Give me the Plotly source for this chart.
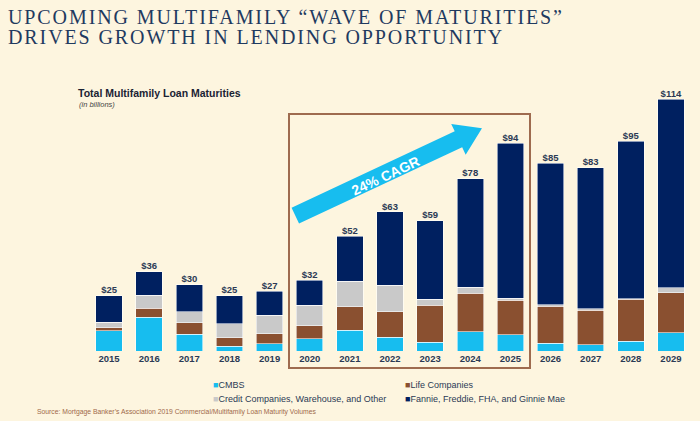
import math
import plotly.graph_objects as go

years = ["2015", "2016", "2017", "2018", "2019", "2020", "2021", "2022",
         "2023", "2024", "2025", "2026", "2027", "2028", "2029"]
totals = [25, 36, 30, 25, 27, 32, 52, 63, 59, 78, 94, 85, 83, 95, 114]

cmbs = [9.1, 15.3, 7.7, 2.1, 3.2, 5.6, 9.4, 6.2, 3.9, 8.8, 7.3, 3.4, 2.9, 4.4, 8.2]
life = [1.5, 4.1, 5.2, 3.9, 4.7, 5.9, 10.7, 11.5, 16.9, 17.4, 15.7, 16.9, 15.6, 19.0, 18.1]
credit = [2.4, 5.9, 4.8, 6.3, 8.3, 9.3, 11.6, 12.0, 2.7, 2.7, 0.9, 0.6, 0.6, 0.3, 2.4]
agency = [12.0, 10.7, 12.3, 12.7, 10.8, 11.2, 20.3, 33.3, 35.5, 49.1, 70.1, 64.1, 63.9, 71.3, 85.3]

series = [
    ("CMBS", cmbs, "#17BDEF"),
    ("Life Companies", life, "#8A5030"),
    ("Credit Companies, Warehouse, and Other", credit, "#C9C9C9"),
    ("Fannie, Freddie, FHA, and Ginnie Mae", agency, "#002060"),
]

W, H = 700, 421
ML, MR, MT, MB = 89, 9, 86, 70
SANS = "Liberation Sans Narrow, Arial Narrow, Liberation Sans, Arial"
NAVY = "#1F3A5F"
LABEL = "#2B3A55"
BG = "#FDF5DF"


def px(x):
    return (x - ML) / (W - ML - MR)


def py(y):
    return (H - MB - y) / (H - MT - MB)


fig = go.Figure()
for name, vals, color in series:
    fig.add_trace(go.Bar(
        x=years, y=vals, name=name, marker_color=color,
        marker_line=dict(color="rgba(255,255,255,0.7)", width=0.8),
        showlegend=False, hoverinfo="y+name",
    ))

fig.add_trace(go.Scatter(
    x=years, y=totals, mode="text",
    text=["$" + str(t) for t in totals], textposition="top center",
    textfont=dict(family=SANS, size=9.5, color=LABEL, weight="bold"),
    showlegend=False, hoverinfo="skip",
))

# box around 2020-2025
fig.add_shape(type="rect", xref="paper", yref="paper",
              x0=px(289), x1=px(530), y0=py(368), y1=py(114),
              line=dict(color="#9E6B4F", width=2), fillcolor="rgba(0,0,0,0)")

# growth arrow
sx, sy, tx, ty = 295.3, 215.6, 482.0, 128.3
L = math.hypot(tx - sx, ty - sy)
ux, uy = (tx - sx) / L, (ty - sy) / L
nx, ny = -uy, ux
hw, hh, hl = 8.8, 17.0, 26.0
bx, by = tx - ux * hl, ty - uy * hl
pts = [
    (sx + nx * hw, sy + ny * hw),
    (bx + nx * hw, by + ny * hw),
    (bx + nx * hh, by + ny * hh),
    (tx, ty),
    (bx - nx * hh, by - ny * hh),
    (bx - nx * hw, by - ny * hw),
    (sx - nx * hw, sy - ny * hw),
]
path = "M " + " L ".join(f"{px(a):.4f},{py(b):.4f}" for a, b in pts) + " Z"
fig.add_shape(type="path", xref="paper", yref="paper", path=path,
              fillcolor="#17BDEF", line=dict(width=0))

fig.add_annotation(xref="paper", yref="paper", x=px(385), y=py(176),
                   text="24% CAGR", showarrow=False,
                   textangle=-25, font=dict(family=SANS, size=14, color="white", weight="bold"))

# title
title_lines = ["UPCOMING MULTIFAMILY “WAVE OF MATURITIES”",
               "DRIVES GROWTH IN LENDING OPPORTUNITY"]
for i, line in enumerate(title_lines):
    fig.add_annotation(xref="paper", yref="paper", x=px(6), y=py(17 + 20 * i),
                       xanchor="left", yanchor="middle", showarrow=False,
                       text=f'<span style="letter-spacing:1.9px">{line}</span>',
                       font=dict(family="Liberation Serif, Times New Roman, serif",
                                 size=20, color=NAVY))

fig.add_annotation(xref="paper", yref="paper", x=px(76), y=py(93),
                   xanchor="left", yanchor="middle", showarrow=False,
                   text="<b>Total Multifamily Loan Maturities</b>",
                   font=dict(family=SANS, size=10.5, color="#1A2233"))
fig.add_annotation(xref="paper", yref="paper", x=px(77), y=py(104),
                   xanchor="left", yanchor="middle", showarrow=False,
                   text="<i>(in billions)</i>",
                   font=dict(family=SANS, size=7.5, color="#444444"))

# legend
legend_pos = [(211, 385), (403, 385), (211, 399), (403, 399)]
for (name, vals, color), (lx, ly) in zip(series, legend_pos):
    fig.add_annotation(xref="paper", yref="paper", x=px(lx), y=py(ly),
                       xanchor="left", yanchor="middle", showarrow=False,
                       text=f'<span style="color:{color}">■</span>{name}',
                       font=dict(family=SANS, size=9, color=LABEL))

fig.add_annotation(xref="paper", yref="paper", x=px(35), y=py(412),
                   xanchor="left", yanchor="middle", showarrow=False,
                   text="Source: Mortgage Banker’s Association 2019 Commercial/Multifamily Loan Maturity Volumes",
                   font=dict(family=SANS, size=6.8, color="#A0694A"))

fig.update_layout(
    barmode="stack", bargap=0.34,
    width=W, height=H,
    margin=dict(l=ML, r=MR, t=MT, b=MB),
    paper_bgcolor=BG, plot_bgcolor=BG,
    xaxis=dict(range=[-0.5, 14.5], showgrid=False, showline=False, zeroline=False, ticks="",
               tickfont=dict(family=SANS, size=9.5, color=LABEL, weight="bold")),
    yaxis=dict(range=[0, 120], visible=False),
    showlegend=False,
)

fig.write_html("out.html", config={"displayModeBar": False},
               post_script="document.body.style.margin='0';")
